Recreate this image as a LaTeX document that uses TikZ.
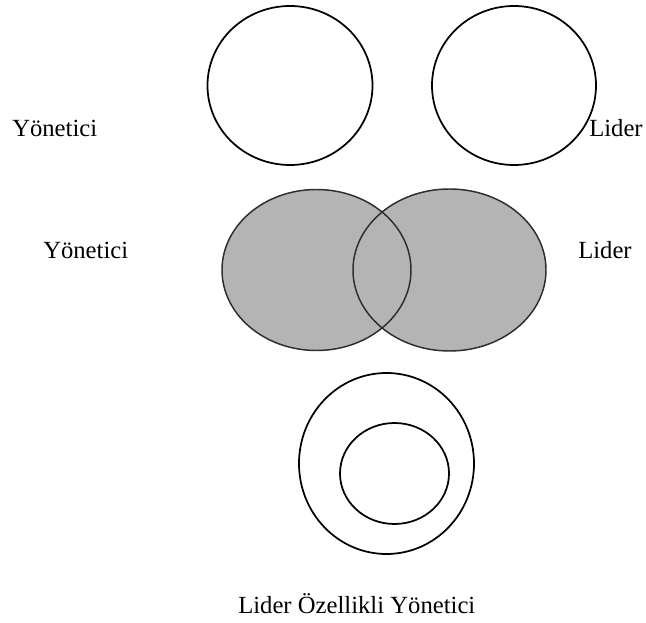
\documentclass[tikz,border=0pt]{standalone}
\usepackage{fontspec}
\setmainfont{Liberation Serif}
\begin{document}
\begin{tikzpicture}[x=0.75pt,y=-0.75pt,
  ring/.style={draw=black,line width=1.3pt},
  vennfill/.style={fill={rgb,255:red,180;green,180;blue,180}},
  vennline/.style={draw={rgb,255:red,45;green,45;blue,45},line width=1.1pt},
  lbl/.style={inner sep=0pt,anchor=base west,font=\fontsize{18.5pt}{22pt}\selectfont}]
\useasboundingbox (0,0) rectangle (646,623);
% top: separate circles
\draw[ring] (290,85.5) ellipse [x radius=82.5,y radius=79.5];
\draw[ring] (514,85.5) ellipse [x radius=82,y radius=79.5];
\node[lbl] (y1) at (12,137) {Yönetici};
\node[lbl] (l1) at (589,137) {Lider};
% middle: overlapping
\fill[vennfill] (316.5,270) ellipse [x radius=94.5,y radius=80.5];
\fill[vennfill] (449.5,270) ellipse [x radius=96.5,y radius=81];
\draw[vennline] (316.5,270) ellipse [x radius=94.5,y radius=80.5];
\draw[vennline] (449.5,270) ellipse [x radius=96.5,y radius=81];
\node[lbl] (y2) at (43,259) {Yönetici};
\node[lbl] (l2) at (578,259) {Lider};
% bottom: nested
\draw[ring] (386.5,463.5) ellipse [x radius=87.5,y radius=90.5];
\draw[ring] (394.5,473.5) ellipse [x radius=54.5,y radius=50.5];
\node[lbl] (ly) at (238,613) {Lider Özellikli Yönetici};
\end{tikzpicture}
\end{document}
